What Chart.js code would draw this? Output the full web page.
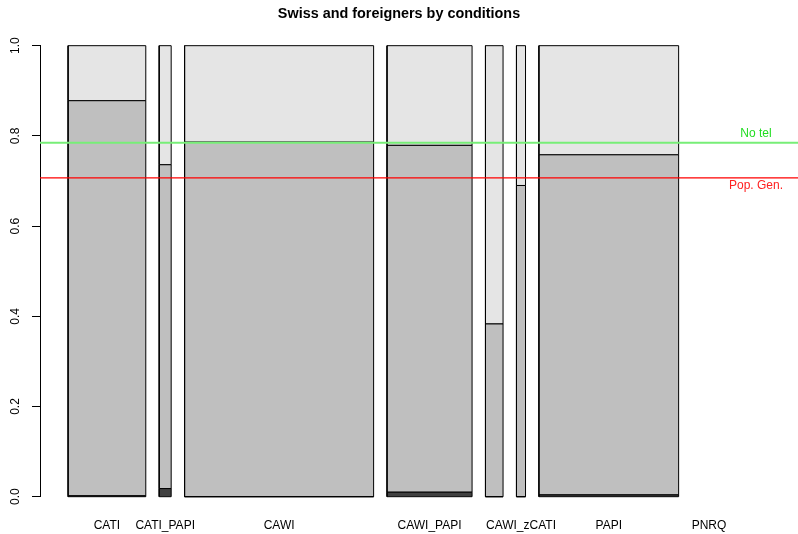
<!DOCTYPE html>
<html>
<head>
<meta charset="utf-8">
<script src="https://cdn.jsdelivr.net/npm/chart.js@4/dist/chart.umd.min.js"></script>
<style>
  html, body { margin: 0; padding: 0; background: #ffffff; }
  #wrap { width: 798px; height: 534px; }
</style>
</head>
<body>
<div id="wrap"><canvas id="c" width="798" height="534"></canvas></div>
<script>
// Survey conditions, number of respondents (bar widths) and nationality shares per condition
const conditions   = ['CATI', 'CATI_PAPI', 'CAWI', 'CAWI_PAPI', 'CAWI_PAPI_zCATI', 'CAWI_zCATI', 'PAPI', 'PNRQ'];
const respondents  = [583, 90, 1418, 638, 132, 68, 1048, 255];
const shareMissing = [0.002, 0.018, 0.000, 0.010, 0.000, 0.000, 0.004, null];
const shareSwiss   = [0.876, 0.718, 0.786, 0.769, 0.383, 0.690, 0.754, null];
const shareForeign = [0.122, 0.264, 0.214, 0.221, 0.617, 0.310, 0.242, null];

// Reference shares of Swiss respondents
const refLabels = ['No tel', 'Pop. Gen.'];
const refValues = [0.785, 0.707];

const yTicks = [0, 0.2, 0.4, 0.6, 0.8, 1.0];

// ---- styles ----
const FONT = '"Liberation Sans", Arial, Helvetica, sans-serif';
const segColors = ['#404040', '#bfbfbf', '#e5e5e5'];
const refLineColors = ['#77ee77', '#ff0000'];
const refTextColors = ['#22dd22', '#ff2020'];
const refLineWidths = [2, 1.2];
const spaceFactor = 0.19;   // gap between bars, relative to the mean bar width
const X_MIN = -110, X_MAX = 5576;

// ---- build bar rectangles from the data ----
const meanWidth = respondents.reduce((a, b) => a + b, 0) / respondents.length;
const gap = spaceFactor * meanWidth;
const centers = [];
const datasets = [];
let left = 0;
conditions.forEach((name, i) => {
  left += gap;
  const right = left + respondents[i];
  centers.push((left + right) / 2);
  if (shareSwiss[i] !== null) {
    const parts = [shareMissing[i], shareSwiss[i], shareForeign[i]];
    let bottom = 0;
    parts.forEach((p, k) => {
      const top = k === parts.length - 1 ? 1 : bottom + p;
      datasets.push({
        type: 'line',
        data: [
          { x: left, y: bottom }, { x: right, y: bottom },
          { x: right, y: top }, { x: left, y: top }, { x: left, y: bottom }
        ],
        fill: 'shape',
        backgroundColor: segColors[k],
        borderColor: '#000000',
        borderWidth: 1,
        borderJoinStyle: 'miter',
        pointRadius: 0,
        tension: 0,
        clip: false,
        order: 1
      });
      bottom = top;
    });
  }
  left = right;
});

refValues.forEach((v, i) => {
  datasets.unshift({
    type: 'line',
    data: [{ x: X_MIN, y: v }, { x: X_MAX, y: v }],
    fill: false,
    borderColor: refLineColors[i],
    borderWidth: refLineWidths[i],
    pointRadius: 0,
    order: 0
  });
});

// rotated y tick labels and reference line captions
const annotate = {
  id: 'annotate',
  afterDraw(chart) {
    const { ctx, chartArea, scales: { y } } = chart;
    ctx.save();
    ctx.font = '12px ' + FONT;
    ctx.textAlign = 'center';
    ctx.textBaseline = 'middle';
    ctx.fillStyle = '#000000';
    yTicks.forEach(v => {
      const py = y.getPixelForValue(v);
      ctx.save();
      ctx.translate(16, py);
      ctx.rotate(-Math.PI / 2);
      ctx.fillText(v.toFixed(1), 0, 0);
      ctx.restore();
    });
    const tx = chartArea.right - 42;
    refValues.forEach((v, i) => {
      const py = y.getPixelForValue(v);
      ctx.fillStyle = refTextColors[i];
      ctx.fillText(refLabels[i], tx, i === 0 ? py - 8.5 : py + 8);
    });
    ctx.restore();
  }
};

new Chart(document.getElementById('c'), {
  type: 'line',
  data: { datasets },
  plugins: [annotate],
  options: {
    responsive: false,
    devicePixelRatio: 1,
    animation: false,
    layout: { padding: { left: 0, right: 0, top: 0, bottom: 0 } },
    plugins: {
      legend: { display: false },
      tooltip: { enabled: false },
      title: {
        display: true,
        text: 'Swiss and foreigners by conditions',
        color: '#000000',
        font: { family: FONT, size: 14.4, weight: 'bold', lineHeight: 1.2 },
        padding: { top: 5, bottom: 23.4 }
      }
    },
    scales: {
      x: {
        type: 'linear',
        min: X_MIN,
        max: X_MAX,
        grid: { display: false },
        border: { display: false },
        afterBuildTicks(scale) {
          // keep labels left to right, dropping any that would overlap the previous one
          const ctx = scale.ctx;
          ctx.save();
          ctx.font = '12px ' + FONT;
          const pxPerUnit = scale.width / (X_MAX - X_MIN);
          const em = ctx.measureText('m').width;
          const kept = [];
          let lastRight = -Infinity;
          centers.forEach((c, i) => {
            const w = ctx.measureText(conditions[i]).width;
            const cp = (c - X_MIN) * pxPerUnit;
            const l = cp - w / 2, r = cp + w / 2;
            if (l >= lastRight + em * 0.5) {
              kept.push({ value: c });
              lastRight = r;
            }
          });
          ctx.restore();
          scale.ticks = kept;
        },
        afterFit(scale) { scale.height = 37.3; },
        ticks: {
          autoSkip: false,
          maxRotation: 0,
          minRotation: 0,
          padding: 14,
          color: '#000000',
          font: { family: FONT, size: 12 },
          callback(value) {
            const i = centers.findIndex(c => Math.abs(c - value) < 1e-6);
            return i >= 0 ? conditions[i] : '';
          }
        }
      },
      y: {
        type: 'linear',
        min: 0,
        max: 1,
        afterBuildTicks(scale) { scale.ticks = yTicks.map(v => ({ value: v })); },
        afterFit(scale) { scale.width = 40; },
        ticks: { display: false },
        grid: {
          display: true,
          drawOnChartArea: false,
          drawTicks: true,
          tickLength: 8,
          color: '#000000',
          tickColor: '#000000',
          lineWidth: 1
        },
        border: { display: true, color: '#000000', width: 1 }
      }
    }
  }
});
</script>
</body>
</html>
